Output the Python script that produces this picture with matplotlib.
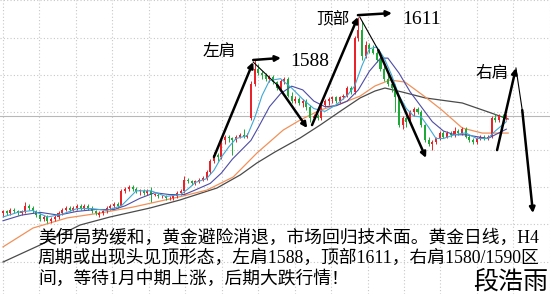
import matplotlib
matplotlib.use("Agg")
import matplotlib.pyplot as plt
from matplotlib.ticker import MultipleLocator
import numpy as np

'''DATA : gold candles read off the picture (price)'''
opens = [1506, 1507, 1506, 1508, 1507, 1506, 1507, 1510, 1509, 1507,
         1505, 1503, 1504, 1502, 1503, 1504, 1506, 1508, 1509, 1508,
         1509, 1510, 1509, 1510, 1509, 1507, 1505, 1506, 1507, 1509,
         1510, 1511, 1510, 1518, 1519, 1520, 1519, 1518, 1518, 1517,
         1518, 1516, 1516, 1515, 1515, 1514, 1514, 1515, 1517, 1518,
         1524, 1523, 1522, 1523, 1524, 1525, 1528, 1534, 1537, 1536,
         1545, 1547, 1546, 1545, 1547, 1548, 1547, 1557, 1575, 1583,
         1581, 1580, 1578, 1579, 1576, 1573, 1577, 1578, 1569, 1566,
         1567, 1565, 1566, 1563, 1557, 1558, 1557, 1564, 1566, 1567,
         1568, 1566, 1568, 1569, 1573, 1571, 1600, 1604, 1590, 1596,
         1594, 1592, 1588, 1583, 1578, 1575, 1573, 1568, 1553, 1557,
         1555, 1560, 1562, 1560, 1553, 1545, 1543, 1544, 1546, 1549,
         1547, 1549, 1548, 1550, 1549, 1551, 1547, 1545, 1544, 1546,
         1547, 1546, 1547, 1557, 1556, 1558, 1557]
highs = [1508, 1508, 1509, 1509, 1508, 1508, 1512, 1511, 1510, 1508,
         1506, 1505, 1505, 1504, 1505, 1507, 1509, 1510, 1510, 1510,
         1511, 1511, 1511, 1511, 1510, 1508, 1507, 1508, 1510, 1511,
         1512, 1512, 1519, 1520, 1521, 1521, 1520, 1519, 1519, 1519,
         1520, 1517, 1517, 1516, 1516, 1515, 1516, 1518, 1519, 1526,
         1525, 1524, 1524, 1525, 1526, 1529, 1535, 1539, 1538, 1546,
         1548, 1548, 1547, 1548, 1549, 1551, 1549, 1577, 1588, 1586,
         1582, 1581, 1580, 1580, 1577, 1578, 1579, 1579, 1571, 1569,
         1568, 1567, 1567, 1564, 1559, 1559, 1565, 1567, 1568, 1569,
         1569, 1569, 1570, 1574, 1574, 1601, 1611, 1609, 1598, 1597,
         1596, 1593, 1590, 1585, 1580, 1577, 1575, 1569, 1558, 1558,
         1561, 1563, 1563, 1561, 1554, 1547, 1545, 1547, 1550, 1550,
         1550, 1550, 1552, 1551, 1552, 1552, 1548, 1546, 1547, 1548,
         1548, 1548, 1558, 1559, 1559, 1559, 1559]
lows = [1504, 1505, 1505, 1506, 1505, 1505, 1506, 1508, 1506, 1504,
        1502, 1502, 1501, 1501, 1502, 1503, 1505, 1507, 1507, 1507,
        1508, 1508, 1508, 1508, 1506, 1505, 1504, 1505, 1506, 1508,
        1509, 1509, 1510, 1517, 1518, 1518, 1517, 1516, 1516, 1516,
        1512, 1515, 1514, 1514, 1513, 1513, 1513, 1514, 1516, 1517,
        1522, 1521, 1521, 1522, 1523, 1524, 1527, 1533, 1534, 1535,
        1543, 1544, 1537, 1544, 1546, 1546, 1546, 1556, 1574, 1580,
        1578, 1577, 1576, 1575, 1572, 1572, 1575, 1568, 1565, 1565,
        1564, 1563, 1561, 1555, 1556, 1556, 1556, 1563, 1564, 1565,
        1565, 1565, 1567, 1568, 1570, 1570, 1598, 1588, 1589, 1592,
        1591, 1587, 1582, 1577, 1574, 1571, 1560, 1552, 1551, 1552,
        1554, 1558, 1559, 1552, 1544, 1542, 1540, 1543, 1545, 1546,
        1546, 1547, 1547, 1548, 1548, 1546, 1544, 1543, 1543, 1545,
        1545, 1545, 1546, 1555, 1555, 1556, 1556]
closes = [1507, 1506, 1508, 1507, 1506, 1507, 1510, 1509, 1507, 1505,
          1503, 1504, 1502, 1503, 1504, 1506, 1508, 1509, 1508, 1509,
          1510, 1509, 1510, 1509, 1507, 1506, 1506, 1507, 1509, 1510,
          1511, 1510, 1518, 1519, 1520, 1519, 1518, 1518, 1517, 1518,
          1516, 1516, 1515, 1515, 1514, 1514, 1515, 1517, 1518, 1524,
          1523, 1522, 1523, 1524, 1525, 1528, 1534, 1537, 1536, 1545,
          1547, 1546, 1545, 1547, 1548, 1547, 1548, 1575, 1583, 1581,
          1580, 1578, 1579, 1576, 1573, 1577, 1578, 1569, 1566, 1567,
          1565, 1566, 1563, 1557, 1558, 1557, 1564, 1566, 1567, 1568,
          1566, 1568, 1569, 1573, 1571, 1600, 1604, 1590, 1596, 1594,
          1592, 1588, 1583, 1578, 1575, 1573, 1568, 1553, 1557, 1555,
          1560, 1562, 1560, 1553, 1545, 1543, 1544, 1546, 1549, 1547,
          1549, 1548, 1550, 1549, 1551, 1547, 1545, 1544, 1546, 1547,
          1546, 1547, 1557, 1556, 1558, 1557, 1558]

# moving average lines (candle index, price)
fast_x = [0, 4, 8, 12, 16, 20, 24, 28, 32, 34, 36, 40, 44, 48, 50, 52, 55, 57,
          59, 61, 63, 66, 68, 70, 72, 75, 78, 81, 84, 87, 90, 93, 95, 97, 99,
          101, 103, 105, 107, 109, 111, 113, 115, 117, 119, 122, 125, 128, 131,
          133, 136]
fast_ma = [1504, 1506.5, 1507.5, 1504, 1505.5, 1508.5, 1508.5, 1507.5, 1510,
           1514, 1518, 1518, 1515, 1516, 1519, 1522.5, 1524.5, 1529, 1536,
           1541.5, 1546, 1547.5, 1557, 1569, 1577, 1578, 1573, 1567, 1562,
           1560.5, 1564, 1569, 1574, 1585, 1594, 1595, 1589, 1580, 1569, 1562,
           1558, 1557.5, 1552, 1546, 1546, 1548, 1549, 1546, 1546, 1550, 1555]
mid_x = [0, 5, 10, 15, 20, 25, 30, 33, 37, 41, 45, 49, 52, 56, 59, 62, 65, 67,
         69, 72, 75, 78, 81, 84, 87, 90, 93, 96, 99, 102, 104, 107, 110, 113,
         116, 119, 122, 125, 128, 131, 134, 136]
mid_ma = [1502, 1505, 1506.5, 1505, 1507, 1508, 1508, 1510, 1514, 1517, 1516,
          1516, 1518.5, 1522, 1527.5, 1535, 1541, 1545, 1552, 1563, 1570, 1574,
          1572, 1566, 1563, 1563.5, 1566, 1572, 1582, 1589, 1589, 1581, 1571,
          1563, 1555, 1550, 1548, 1548, 1547, 1546, 1549, 1551]
orange_x = [0, 8.1, 17.3, 26.2, 35.1, 43.8, 48.6, 55.1, 62.2, 68.6, 75.7,
            80.3, 85.7, 91.1, 96.5, 100.5, 104.6, 108.6, 114.1, 118.6, 124.1,
            129.5, 136.5]
orange_ma = [1488.0, 1498.1, 1503.5, 1506.1, 1509.3, 1513.1, 1515.2, 1518.4,
             1525.4, 1538.2, 1550.5, 1555.9, 1561.2, 1564.5, 1568.7, 1574.1,
             1577.3, 1576.2, 1568.2, 1561.2, 1551.6, 1548.9, 1548.9]
slow_x = [0, 10, 20.8, 28.9, 39.7, 47.8, 57.8, 64.1, 68.6, 73.5, 80.3, 85.7,
          91.6, 96.5, 100.5, 103.2, 107.8, 114.1, 124.1, 131.1, 136.5]
slow_ma = [1479.9, 1489.0, 1499.7, 1504.0, 1508.8, 1513.1, 1519.5, 1526.5,
           1532.9, 1538.8, 1546.3, 1553.2, 1561.2, 1567.7, 1571.4, 1573.0,
           1570.9, 1567.7, 1565.0, 1560.2, 1556.4]

'''ANNOTATIONS : hand drawn arrows (candle index, price)'''
thick_arrows = [((57.0, 1536.1), (67.6, 1586.9)),
                ((67.6, 1588.0), (75.1, 1589.1)),
                ((74.1, 1574.6), (82.2, 1551.6)),
                ((83.5, 1553.2), (95.9, 1611.0)),
                ((95.9, 1612.0), (105.1, 1613.1)),
                ((101.4, 1593.3), (114.3, 1535.6)),
                ((133.5, 1539.8), (138.6, 1583.7)),
                ((140.3, 1561.2), (143.2, 1506.1))]
thin_lines = [((67.6, 1586.9), (74.1, 1574.6)),
              ((96.4, 1611.0), (101.4, 1593.3)),
              ((138.6, 1583.7), (140.3, 1561.2))]

labels_cn = [("左肩", 58.4, 1592.3), ("顶部", 89.2, 1609.4), ("右肩", 132.2, 1581.0)]
labels_num = [("1588", 83.0, 1587.0), ("1611", 113.0, 1609.4)]

para = ["美伊局势缓和，黄金避险消退，市场回归技术面。黄金日线，H4",
        "周期或出现头见顶形态，左肩1588，顶部1611，右肩1580/1590区",
        "间，等待1月中期上涨，后期大跌行情！"]
author = "段浩雨"

UP = '#e8242a'
DOWN = '#1eaa38'
CN_FONT = ['Noto Sans CJK SC']
MIX_FONT = ['Liberation Serif', 'Noto Sans CJK SC']

fig = plt.figure(figsize=(5.5, 2.94), dpi=100)
ax = fig.add_axes([0, 0, 1, 1])

# candles
o = np.array(opens, float)
c = np.array(closes, float)
x = np.arange(len(c))
col = np.where(c >= o, UP, DOWN)
ax.vlines(x, lows, highs, colors=col, lw=0.7, zorder=3)
body = np.maximum(np.abs(c - o), 0.35)
ax.bar(x, body, bottom=np.minimum(o, c), width=0.55, color=col, lw=0, zorder=3)

# MAs
ax.plot(slow_x, slow_ma, color='#4a4a4a', lw=0.9, zorder=2)
ax.plot(orange_x, orange_ma, color='#f0915a', lw=0.9, zorder=2)
ax.plot(mid_x, mid_ma, color='#4c4ca6', lw=0.8, zorder=4)
ax.plot(fast_x, fast_ma, color='#3fa8d8', lw=0.8, zorder=4)

# current price line
ax.axhline(closes[-1], color='#b8b8b8', lw=0.8, zorder=1)

# arrows
for start, end in thick_arrows:
    ax.annotate('', xy=end, xytext=start,
                arrowprops=dict(arrowstyle='-|>', color='black', lw=1.8,
                                mutation_scale=8, shrinkA=0, shrinkB=0),
                zorder=6)
for start, end in thin_lines:
    ax.plot([start[0], end[0]], [start[1], end[1]], color='black', lw=0.8, zorder=6)

for txt, tx, ty in labels_cn:
    ax.text(tx, ty, txt, family=CN_FONT, fontsize=12, ha='center', va='center', zorder=7)
for txt, tx, ty in labels_num:
    ax.text(tx, ty, txt, family=['Liberation Serif'], fontsize=14, ha='center', va='center', zorder=7)

for k, line in enumerate(para):
    fig.text(0.069, [0.190, 0.122, 0.051][k], line, family=MIX_FONT, fontsize=12.8,
             ha='left', va='center', zorder=8)
fig.text(0.996, 0.041, author, family=CN_FONT, fontsize=18, ha='right', va='center')

# grid and axes
ax.set_xlim(-0.81, 147.8)
ax.set_ylim(1462.8, 1620.1)
ax.xaxis.set_major_locator(MultipleLocator(9.85))
ax.yaxis.set_major_locator(MultipleLocator(20))
ax.grid(True, color='#c8c8c8', linestyle=(0, (1, 2)), lw=0.8, zorder=0)
ax.set_axisbelow(True)
ax.tick_params(length=0, labelbottom=False, labelleft=False)
for s in ax.spines.values():
    s.set_visible(False)

fig.savefig('out.png', dpi=100)
